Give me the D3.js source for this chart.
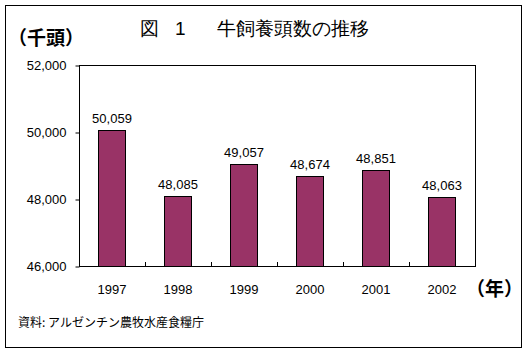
<!DOCTYPE html>
<html>
<head>
<meta charset="utf-8">
<script src="https://cdn.jsdelivr.net/npm/d3@7"></script>
<style>
    body { margin: 0; background: #fff; }
    svg text { font-family: "Liberation Sans", Arial, sans-serif; }
    .jp { font-family: "Noto Sans CJK JP", sans-serif; }
</style>
</head>
<body>
<svg id="chart" width="528" height="353"></svg>
<script>
var years = ["1997", "1998", "1999", "2000", "2001", "2002"];
var cattle = [50059, 48085, 49057, 48674, 48851, 48063];
var yTicks = [46000, 48000, 50000, 52000];

var svg = d3.select("#chart");
var fmt = d3.format(",");

// outer frame
svg.append("rect")
    .attr("x", 5.5)
    .attr("y", 5.5)
    .attr("width", 516)
    .attr("height", 342)
    .attr("fill", "none")
    .attr("stroke", "#000")
    .attr("stroke-width", 1);

var plotLeft = 79, plotRight = 475, plotTop = 65, plotBottom = 266;

var x = d3.scaleBand()
    .domain(years)
    .range([plotLeft, plotRight])
    .paddingInner(0.59)
    .paddingOuter(0.295);

var y = d3.scaleLinear()
    .domain([46000, 52000])
    .range([plotBottom, plotTop]);

// plot frame
svg.append("rect")
    .attr("x", plotLeft + 0.5)
    .attr("y", plotTop + 0.5)
    .attr("width", plotRight - plotLeft)
    .attr("height", plotBottom - plotTop)
    .attr("fill", "#fff")
    .attr("stroke", "#000");

// y axis
var yAxis = svg.append("g")
    .attr("transform", "translate(" + (plotLeft + 0.5) + ",0.5)")
    .call(d3.axisLeft(y).tickValues(yTicks).tickFormat(fmt).tickSize(4).tickPadding(9));
yAxis.select(".domain").remove();
yAxis.selectAll("text").attr("font-size", 13).attr("fill", "#000")
    .attr("font-family", "Liberation Sans, Arial, sans-serif");

// x ticks at category boundaries, pointing up from the bottom
var step = (plotRight - plotLeft) / years.length;
svg.append("g")
    .selectAll("line")
    .data(d3.range(1, years.length))
    .join("line")
    .attr("x1", i => Math.round(plotLeft + i * step) + 0.5)
    .attr("x2", i => Math.round(plotLeft + i * step) + 0.5)
    .attr("y1", plotBottom)
    .attr("y2", plotBottom - 4)
    .attr("stroke", "#000");

// bars
svg.append("g")
    .selectAll("rect")
    .data(cattle)
    .join("rect")
    .attr("x", (d, i) => Math.round(x(years[i])) + 0.5)
    .attr("y", d => Math.round(y(d)) + 0.5)
    .attr("width", Math.round(x.bandwidth()))
    .attr("height", d => plotBottom - Math.round(y(d)))
    .attr("fill", "#993366")
    .attr("stroke", "#000");

// value labels
svg.append("g")
    .selectAll("text")
    .data(cattle)
    .join("text")
    .attr("x", (d, i) => x(years[i]) + x.bandwidth() / 2)
    .attr("y", d => y(d) - 7)
    .attr("text-anchor", "middle")
    .attr("font-size", 13)
    .text(d => fmt(d));

// year labels
svg.append("g")
    .selectAll("text")
    .data(years)
    .join("text")
    .attr("x", d => x(d) + x.bandwidth() / 2)
    .attr("y", 294)
    .attr("text-anchor", "middle")
    .attr("font-size", 13)
    .text(d => d);

// title, in three pieces to keep the wide gaps
var title = svg.append("g").attr("class", "jp").attr("font-size", 19);
title.append("text").attr("x", 140).attr("y", 35).text("図");
title.append("text").attr("x", 175).attr("y", 35).text("1");
title.append("text").attr("x", 217).attr("y", 35).text("牛飼養頭数の推移");

svg.append("text")
    .attr("class", "jp")
    .attr("x", 8)
    .attr("y", 45)
    .attr("font-size", 19)
    .attr("font-weight", "bold")
    .text("（千頭）");

svg.append("text")
    .attr("class", "jp")
    .attr("x", 466)
    .attr("y", 296)
    .attr("font-size", 19)
    .attr("font-weight", "bold")
    .text("（年）");

svg.append("text")
    .attr("class", "jp")
    .attr("x", 18)
    .attr("y", 327)
    .attr("font-size", 12)
    .text("資料: アルゼンチン農牧水産食糧庁");
</script>
</body>
</html>
